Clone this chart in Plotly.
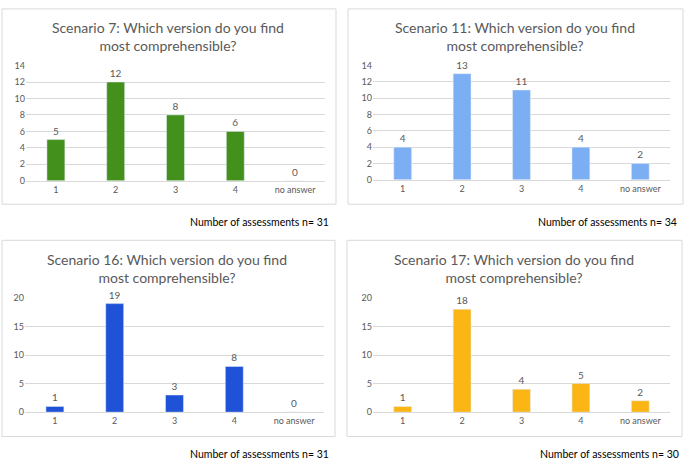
import plotly.graph_objects as go

W, H = 685, 464

categories = ["1", "2", "3", "4", "no answer"]
s7 = [5, 12, 8, 6, 0]
s11 = [4, 13, 11, 4, 2]
s16 = [1, 19, 3, 8, 0]
s17 = [1, 18, 4, 5, 2]

titles = ["Scenario 7: Which version do you find<br>most comprehensible?",
          "Scenario 11: Which version do you find<br>most comprehensible?",
          "Scenario 16: Which version do you find<br>most comprehensible?",
          "Scenario 17: Which version do you find<br>most comprehensible?"]
notes = ["Number of assessments n= 31", "Number of assessments n= 34",
         "Number of assessments n= 31", "Number of assessments n= 30"]
colors = ["#43901c", "#7caef4", "#1f52d6", "#fbb514"]
yranges = [[0, 14], [0, 14], [0, 20], [0, 20]]
ydticks = [2, 2, 5, 5]

# pixel layout: (x0, x1, ybottom, ytop) plot area; border boxes; title centre; note anchor
plots = [(26, 325, 179, 61), (373, 670, 178, 61), (25, 324, 416, 299), (373, 670, 416, 299)]
borders = [(2, 336, 3, 203), (348, 683, 3, 203), (2, 335, 240, 441), (347, 682, 240, 441)]
title_pos = [(168, 31), (515, 31), (167, 269), (514, 269)]
note_pos = [(331, 221), (679, 221), (331, 459), (681, 459)]

def px(x):
    return x / W

def py(y):
    return 1 - y / H

fig = go.Figure()
series = [s7, s11, s16, s17]
font = "Lato"
for i in range(4):
    ax = "" if i == 0 else str(i + 1)
    fig.add_trace(go.Bar(
        x=categories, y=series[i], marker_color=colors[i],
        text=[str(v) for v in series[i]], textposition="outside",
        textfont=dict(size=10, color="#595959", family=font),
        cliponaxis=False, xaxis="x" + ax, yaxis="y" + ax, showlegend=False,
    ))
    x0, x1, yb, yt = plots[i]
    fig.layout["xaxis" + ax] = dict(
        domain=[px(x0), px(x1)], anchor="y" + ax, type="category",
        showgrid=False, showline=True, linecolor="#d9d9d9", ticks="",
        tickfont=dict(size=9, color="#595959", family=font), fixedrange=True,
    )
    fig.layout["yaxis" + ax] = dict(
        domain=[py(yb), py(yt)], anchor="x" + ax, range=yranges[i],
        dtick=ydticks[i], showgrid=True, gridcolor="#d9d9d9", zeroline=False,
        showline=False, ticks="", tickfont=dict(size=9, color="#595959", family=font),
        fixedrange=True,
    )
    bx0, bx1, by0, by1 = borders[i]
    fig.add_shape(type="rect", xref="paper", yref="paper",
                  x0=px(bx0), x1=px(bx1), y0=py(by1), y1=py(by0),
                  line=dict(color="#d9d9d9", width=1), fillcolor="rgba(0,0,0,0)")
    tx, ty = title_pos[i]
    fig.add_annotation(text=titles[i], xref="paper", yref="paper", x=px(tx), y=py(ty),
                       xanchor="center", yanchor="middle", showarrow=False,
                       font=dict(size=14, color="#595959", family=font))
    nx, ny = note_pos[i]
    fig.add_annotation(text=notes[i], xref="paper", yref="paper", x=px(nx), y=py(ny),
                       xanchor="right", yanchor="middle", showarrow=False,
                       font=dict(size=10.5, color="#000000", family=font))

fig.update_layout(width=W, height=H, margin=dict(l=0, r=0, t=0, b=0),
                  paper_bgcolor="white", plot_bgcolor="white", bargap=0.7)
fig.write_html("out.html", config={"displayModeBar": False},
               post_script="document.body.style.margin='0';document.body.style.overflow='hidden';")
